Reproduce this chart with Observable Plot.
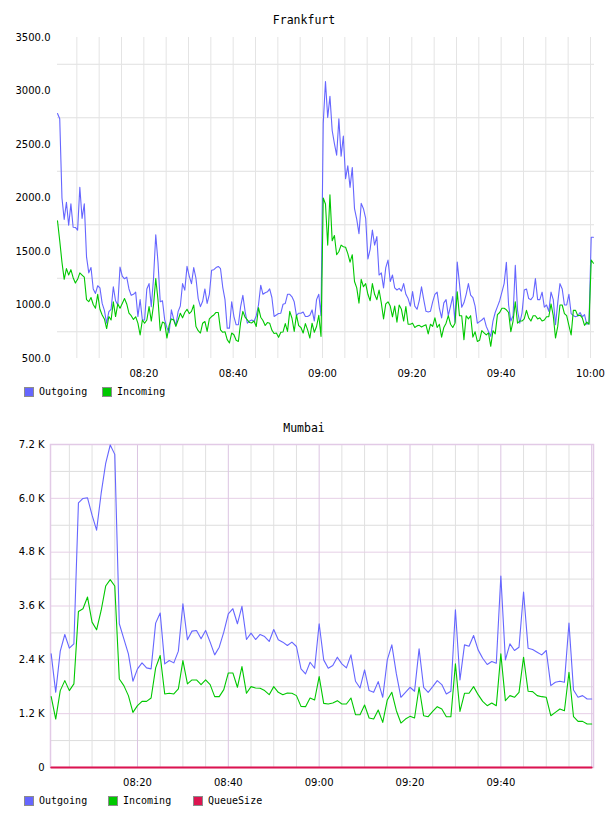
<!DOCTYPE html>
<html>
<head>
<meta charset="utf-8">
<script src="https://cdn.jsdelivr.net/npm/d3@7"></script>
<script src="https://cdn.jsdelivr.net/npm/@observablehq/plot@0.6"></script>
<style>
  body { margin: 0; background: #fff; }
  #page { position: relative; width: 608px; height: 816px; overflow: hidden; background: #fff; }
  .chart { position: absolute; left: 0; }
  .title { position: absolute; left: 0; width: 608px; text-align: center; z-index: 2;
           font: 11.5px "DejaVu Sans Mono", monospace; line-height: 14px; color: #000; }
  .item { position: absolute; display: flex; align-items: center; z-index: 2;
          font: 10px "DejaVu Sans Mono", monospace; line-height: 12px; color: #000; white-space: nowrap; }
  .swatch { width: 8px; height: 8px; border: 1px solid #8c8c8c; margin-right: 5px; }
</style>
</head>
<body>
<div id="page"></div>
<script>
// ---- Frankfurt: samples every 30 s starting 08:00:40 ----
const frankfurtOutgoing = [
  2790,2740,2000,1800,1960,1745,1945,1727,1725,1700,
  2100,1810,1945,1450,1300,1350,1150,1108,1180,1160,
  1015,950,830,938,960,1170,1040,1000,1355,1270,
  1245,1260,1150,1090,1100,1120,892,1050,860,861,
  1150,1200,985,1250,1657,1400,1030,1040,861,790,
  740,954,870,810,938,990,1200,1139,1361,1270,
  1200,1350,1250,1060,985,1035,1150,1015,1100,1324,
  1330,1350,1360,1339,1165,1050,784,784,1031,892,
  815,815,985,1090,940,830,850,860,846,900,
  1000,1185,1100,1115,1123,1150,1070,892,907,920,
  923,1007,1015,1100,1100,1077,1030,900,923,923,
  935,892,892,905,954,850,1050,1100,900,2700,
  3089,2752,2950,2631,2509,2400,2740,2390,2580,2180,
  2300,2099,2284,1900,1800,1667,1950,1900,1810,1430,
  1520,1700,1560,1640,1280,1300,1160,1350,1420,1220,
  1280,1160,1140,1155,1130,1200,1100,1060,990,1125,
  990,960,1040,1170,1050,941,935,941,1030,1100,
  1120,970,880,1020,1050,900,990,1080,840,1401,
  1200,980,1020,1100,1200,1093,1070,990,830,845,
  860,880,800,753,707,850,930,985,1040,1120,
  1200,1400,1000,850,900,1370,950,830,925,1140,
  1150,1060,1050,1080,1247,1050,1050,1120,980,1000,
  941,1120,1050,815,1020,1200,1150,1000,1000,1100,
  920,900,890,900,930,890,910,820,830,1633,
  1633
];
const frankfurtIncoming = [
  1787,1600,1400,1240,1340,1280,1330,1255,1205,1240,
  1300,1280,1260,1050,1031,1070,1005,970,1100,960,
  907,870,780,892,860,1030,892,1010,970,1015,
  1060,1010,923,900,865,890,830,720,860,830,
  860,985,850,1000,1247,1050,760,840,830,691,
  810,870,861,800,860,923,880,930,960,920,
  940,1000,799,760,738,830,846,753,870,892,
  907,930,930,768,745,750,676,645,738,722,
  670,660,836,940,886,861,836,833,850,799,
  975,886,855,808,836,830,765,734,738,698,
  745,748,826,753,940,876,753,907,808,790,
  738,826,768,691,830,745,799,904,707,2000,
  1944,1560,2030,1600,1650,1470,1500,1560,1545,1540,
  1480,1400,1470,1220,1160,1018,1240,1170,1200,1100,
  1040,1200,1100,1050,1140,1020,870,1010,1030,990,
  890,990,840,1000,960,850,985,820,820,830,
  790,805,810,795,805,815,730,820,800,880,
  790,820,700,790,830,900,820,790,830,1123,
  900,900,676,900,870,900,700,750,660,670,
  760,740,720,740,614,760,730,910,930,969,
  969,955,930,750,850,1031,830,850,850,870,
  950,880,850,900,900,870,880,850,860,890,
  890,1010,900,691,800,1000,1000,920,900,810,
  720,950,950,900,905,880,810,840,820,1420,
  1390
];
const frankfurtYTicks = [500, 1000, 1500, 2000, 2500, 3000, 3500];
const frankfurtYGrid = [750, 1250, 1750, 2250, 2750, 3250];
const frankfurtTimeLabels = ["08:20", "08:40", "09:00", "09:20", "09:40", "10:00"];

// ---- Mumbai: one sample per minute starting 08:01 ----
const mumbaiOutgoing = [
  2533,1676,2593,2965,2660,2757,5900,5997,6012,5625,
  5290,6109,6780,7189,6980,3204,2868,2533,1922,2198,
  2332,2220,2198,3218,3442,2310,2384,2332,2593,3650,
  2846,3040,3055,2868,3055,2794,2511,2682,3017,3427,
  3539,3204,3591,2853,2995,2853,2965,2920,2809,3077,
  2846,2794,2719,2794,2697,2198,2086,2347,2213,3204,
  2399,2213,2272,2459,2310,2220,2511,1922,1773,2175,
  1714,1676,1915,1565,2399,2734,2086,1565,1676,1788,
  1699,2645,1788,1676,1803,1937,1848,1639,1699,3516,
  1952,2734,2704,2943,2622,2436,2295,2362,2324,4269,
  2399,2757,2608,2682,3911,2660,2630,2570,2511,2608,
  1825,1900,1922,1900,3218,1728,1565,1602,1527,1527
];
const mumbaiIncoming = [
  1579,1080,1714,1937,1714,1863,3479,3539,3800,3241,
  3069,3500,4045,4187,4045,1974,1825,1602,1229,1378,
  1475,1475,1550,2220,2496,1639,1654,1639,1751,2384,
  1863,1952,1952,1848,1952,1848,1579,1579,1736,2108,
  2108,1788,2250,1654,1803,1773,1766,1714,1624,1803,
  1676,1624,1661,1654,1602,1363,1356,1550,1505,2026,
  1430,1416,1438,1490,1416,1416,1550,1177,1177,1393,
  1103,1080,1281,1006,1505,1676,1266,991,1080,1140,
  1103,1788,1155,1132,1252,1356,1304,1132,1132,2310,
  1252,1654,1654,1803,1624,1475,1378,1438,1378,2533,
  1490,1602,1565,1676,2459,1699,1691,1602,1579,1565,
  1155,1229,1304,1266,2123,1132,1028,1028,968,968
];
const mumbaiQueueSize = [
  0,0,0,0,0,0,0,0,0,0, 0,0,0,0,0,0,0,0,0,0,
  0,0,0,0,0,0,0,0,0,0, 0,0,0,0,0,0,0,0,0,0,
  0,0,0,0,0,0,0,0,0,0, 0,0,0,0,0,0,0,0,0,0,
  0,0,0,0,0,0,0,0,0,0, 0,0,0,0,0,0,0,0,0,0,
  0,0,0,0,0,0,0,0,0,0, 0,0,0,0,0,0,0,0,0,0,
  0,0,0,0,0,0,0,0,0,0, 0,0,0,0,0,0,0,0,0,0
];
const mumbaiYTicks = [0, 1200, 2400, 3600, 4800, 6000, 7200];
const mumbaiYMinor = [600, 1800, 3000, 4200, 5400, 6600];
const mumbaiTimeLabels = ["08:20", "08:40", "09:00", "09:20", "09:40"];

// ---- helpers ----
const DAY = [2012, 0, 1];
const at = (h, m, s = 0) => new Date(Date.UTC(DAY[0], DAY[1], DAY[2], h, m, s));
const toTime = (label) => { const [h, m] = label.split(":").map(Number); return at(h, m); };
const fiveMinuteMarks = (fromMin, toMin) => d3.range(fromMin, toMin + 1, 5).map(m => at(8, m));
const hhmm = d3.utcFormat("%H:%M");

const COLORS = { outgoing: "#6666ff", incoming: "#00c800", queue: "#dc1450" };
const axisStyle = { fontFamily: "DejaVu Sans, sans-serif", fontSize: "10px", color: "#000", background: "#fff" };

const page = document.getElementById("page");

function addTitle(text, top) {
  const d = document.createElement("div");
  d.className = "title";
  d.style.top = top + "px";
  d.textContent = text;
  page.appendChild(d);
}

function addLegend(items, centerY) {
  for (const [label, color, left] of items) {
    const it = document.createElement("div");
    it.className = "item";
    it.style.left = left + "px";
    it.style.top = (centerY - 6) + "px";
    const sw = document.createElement("div");
    sw.className = "swatch";
    sw.style.background = color;
    it.appendChild(sw);
    it.appendChild(document.createTextNode(label));
    page.appendChild(it);
  }
}

function place(svg, top) {
  svg.classList.add("chart");
  svg.style.top = top + "px";
  page.appendChild(svg);
}

// ---- Frankfurt chart ----
const fStart = at(8, 0, 40);
const fTimes = frankfurtOutgoing.map((_, i) => new Date(+fStart + i * 30000));

const frankfurt = Plot.plot({
  width: 608, height: 400,
  marginTop: 37, marginBottom: 42, marginLeft: 57, marginRight: 14,
  style: axisStyle,
  x: { type: "utc", domain: [fStart, at(10, 0, 54)], axis: null },
  y: { domain: [500, 3500], axis: null },
  marks: [
    Plot.gridY({ ticks: frankfurtYGrid, stroke: "#e0e0e0", strokeOpacity: 1 }),
    Plot.gridX({ ticks: fiveMinuteMarks(5, 120), stroke: "#e4e4e4", strokeOpacity: 1 }),
    Plot.line(frankfurtOutgoing, { x: fTimes, y: d => d, stroke: COLORS.outgoing, strokeWidth: 1.1 }),
    Plot.line(frankfurtIncoming, { x: fTimes, y: d => d, stroke: COLORS.incoming, strokeWidth: 1.1 }),
    Plot.axisY({ ticks: frankfurtYTicks, tickFormat: d => d.toFixed(1), tickSize: 0, tickPadding: 7, label: null }),
    Plot.axisX({ ticks: frankfurtTimeLabels.map(toTime), tickFormat: hhmm, tickSize: 0, tickPadding: 11, label: null })
  ]
});
place(frankfurt, 0);

// ---- Mumbai chart ----
const mStart = at(8, 1, 0);
const mTimes = mumbaiOutgoing.map((_, i) => new Date(+mStart + i * 60000));
const majorTimes = [20, 40, 60, 80, 100, 120].map(m => at(8, m));
const minorTimes = fiveMinuteMarks(5, 115).filter(d => d.getUTCMinutes() % 20 !== 0);

const mumbai = Plot.plot({
  width: 608, height: 400,
  marginTop: 44, marginBottom: 33, marginLeft: 50, marginRight: 15,
  style: axisStyle,
  x: { type: "utc", domain: [at(8, 0, 51), at(10, 0, 24)], axis: null },
  y: { domain: [0, 7200], axis: null },
  marks: [
    Plot.gridY({ ticks: mumbaiYMinor, stroke: "#dddddd", strokeOpacity: 1 }),
    Plot.gridX({ ticks: minorTimes, stroke: "#e0e0e0", strokeOpacity: 1 }),
    Plot.gridY({ ticks: mumbaiYTicks, stroke: "#e6cfe6", strokeOpacity: 1 }),
    Plot.gridX({ ticks: majorTimes, stroke: "#dcc4e2", strokeOpacity: 1 }),
    Plot.frame({ stroke: "#e2cae6", strokeWidth: 1.5 }),
    Plot.line(mumbaiOutgoing, { x: mTimes, y: d => d, stroke: COLORS.outgoing, strokeWidth: 1.1 }),
    Plot.line(mumbaiIncoming, { x: mTimes, y: d => d, stroke: COLORS.incoming, strokeWidth: 1.1 }),
    Plot.line(mumbaiQueueSize, { x: mTimes, y: d => d, stroke: COLORS.queue, strokeWidth: 1.8 }),
    Plot.axisY({ ticks: mumbaiYTicks, tickFormat: d => d === 0 ? "0" : (d / 1000).toFixed(1) + " K", tickSize: 0, tickPadding: 6, label: null }),
    Plot.axisX({ ticks: mumbaiTimeLabels.map(toTime), tickFormat: hhmm, tickSize: 0, tickPadding: 11, label: null })
  ]
});
place(mumbai, 400);

// ---- titles and legends ----
addTitle("Frankfurt", 13);
addTitle("Mumbai", 421);
addLegend([["Outgoing", COLORS.outgoing, 24], ["Incoming", COLORS.incoming, 102]], 392);
addLegend([["Outgoing", COLORS.outgoing, 24], ["Incoming", COLORS.incoming, 108], ["QueueSize", COLORS.queue, 193]], 801);
</script>
</body>
</html>
